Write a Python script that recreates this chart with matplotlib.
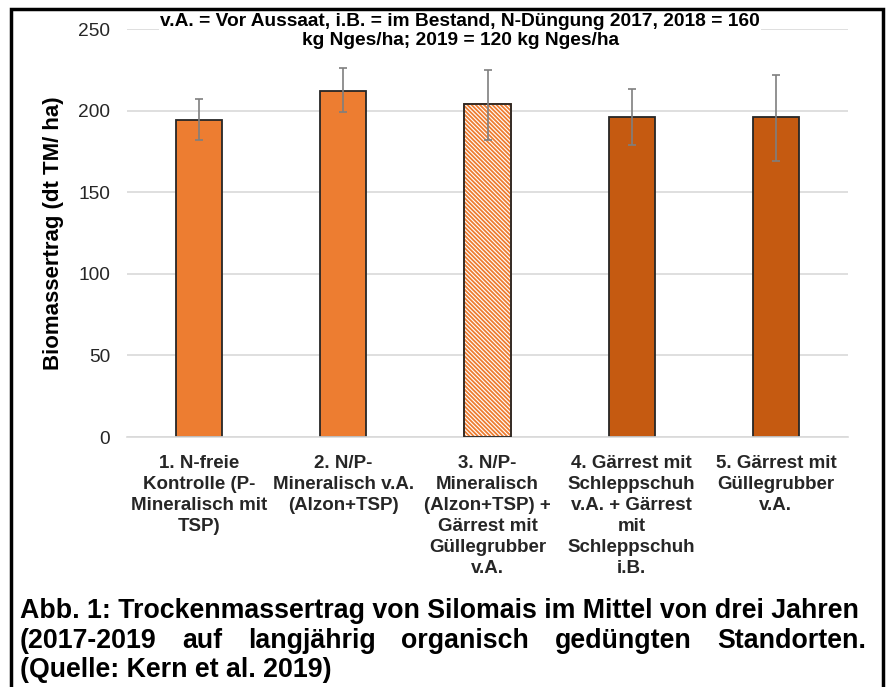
import numpy as np
import matplotlib as mpl
mpl.use("Agg")
import matplotlib.pyplot as plt
from matplotlib.patches import Rectangle

categories = ["1. N-freie\nKontrolle (P-\nMineralisch mit\nTSP)",
              "2. N/P-\nMineralisch v.A.\n(Alzon+TSP)",
              "3. N/P-\nMineralisch\n(Alzon+TSP) +\nGärrest mit\nGüllegrubber\nv.A.",
              "4. Gärrest mit\nSchleppschuh\nv.A. + Gärrest\nmit\nSchleppschuh\ni.B.",
              "5. Gärrest mit\nGüllegrubber\nv.A."]
values = [194, 212, 204, 196, 196]
err_low = [182, 199, 182, 179, 169]
err_high = [207, 226, 225, 213, 222]
yticks = [0, 50, 100, 150, 200, 250]

title = "v.A. = Vor Aussaat, i.B. = im Bestand, N-Düngung 2017, 2018 = 160\nkg Nges/ha; 2019 = 120 kg Nges/ha"
ylabel = "Biomassertrag (dt TM/ ha)"
caption1 = "Abb. 1: Trockenmassertrag von Silomais im Mittel von drei Jahren"
caption2 = "(2017-2019 auf langjährig organisch gedüngten Standorten."
caption3 = "(Quelle: Kern et al. 2019)"

plt.rcParams['font.family'] = ['Liberation Sans', 'DejaVu Sans']
plt.rcParams['hatch.linewidth'] = 1.3

W, H = 886, 687
fig = plt.figure(figsize=(W / 100, H / 100), dpi=100)
ax = fig.add_axes([127 / W, 1 - 437 / H, (848 - 127) / W, (437 - 29) / H])

x = np.arange(len(values))
vals = np.array(values)
yerr = np.array([vals - np.array(err_low), np.array(err_high) - vals])

light = "#ED7D31"
dark = "#C55A11"
faces = [light, light, "white", dark, dark]
bars = ax.bar(x, vals, width=0.32, color=faces, edgecolor="#262626", linewidth=1.3, zorder=2)
bars[2].set_hatch("\\" * 8)
bars[2].set_edgecolor(light)
# black outline on top of hatched bar
ax.bar(x[2], vals[2], width=0.32, fill=False, edgecolor="#262626", linewidth=1.3, zorder=3)

ax.errorbar(x, vals, yerr=yerr, fmt="none", ecolor="#7F7F7F", elinewidth=1.2,
            capsize=3, capthick=1.2, zorder=4)

ax.set_xlim(-0.5, len(values) - 0.5)
ax.set_ylim(0, 250)
ax.set_yticks(yticks)
ax.yaxis.grid(True, color="#D9D9D9", linewidth=1.2, zorder=0)
ax.set_axisbelow(True)
for s in ["top", "right", "left"]:
    ax.spines[s].set_visible(False)
ax.spines["bottom"].set_color("#D9D9D9")
ax.spines["bottom"].set_linewidth(1.2)
ax.tick_params(axis="both", length=0, colors="#262626")
ax.tick_params(axis="y", pad=12, labelsize=13.8)
ax.tick_params(axis="x", pad=13)
ax.set_xticks(x)
ax.set_xticklabels(categories, fontsize=13.5, fontweight="bold", linespacing=1.3)
ax.set_ylabel(ylabel, fontsize=16, fontweight="bold")
ax.yaxis.set_label_coords(64 / W, 1 - 233 / H, transform=fig.transFigure)

fig.text(460 / W, 1 - 31 / H, title, ha="center", va="center", fontsize=13.8,
         fontweight="bold", linespacing=1.15,
         bbox=dict(facecolor="white", edgecolor="none", pad=1))

# caption
cap_fs = 19.3
fig.text(20 / W, 1 - 611 / H, caption1, ha="left", va="center", fontsize=cap_fs, fontweight="bold")
fig.text(20 / W, 1 - 670 / H, caption3, ha="left", va="center", fontsize=cap_fs, fontweight="bold")
# justified second line
words = caption2.split(" ")
r = fig.canvas.get_renderer()
tmp = [fig.text(0, 0, w, fontsize=cap_fs, fontweight="bold") for w in words]
widths = [t.get_window_extent(r).width for t in tmp]
for t in tmp:
    t.remove()
left, right = 20, 866
gap = (right - left - sum(widths)) / (len(words) - 1)
pos = left
for w, wd in zip(words, widths):
    fig.text(pos / W, 1 - 641 / H, w, ha="left", va="center", fontsize=cap_fs, fontweight="bold")
    pos += wd + gap

# outer frame
fig.patches.append(Rectangle((11 / W, -0.05), (883 - 11) / W, 1.05 - 9 / H,
                             transform=fig.transFigure, fill=False,
                             edgecolor="black", linewidth=2.5))

fig.savefig("out.png", dpi=100)
